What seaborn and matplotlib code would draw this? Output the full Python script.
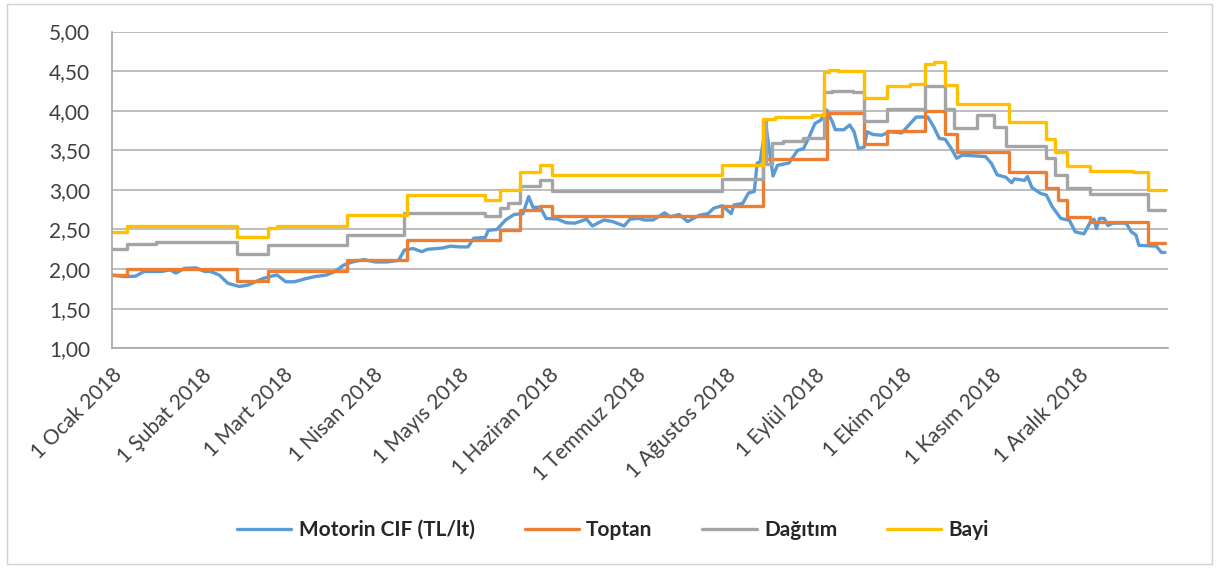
import pandas as pd
import matplotlib
matplotlib.use('Agg')
import matplotlib.pyplot as plt
import seaborn as sns
from matplotlib.patches import Rectangle

# days since 1 Jan 2018 -> price (TL/lt)
cif_days = [0, 4, 8, 11, 17, 20, 22, 25, 29, 32, 34, 37, 40, 44, 47, 52, 55, 57, 60, 63,
            67, 70, 74, 77, 80, 83, 87, 91, 95, 99, 101, 104, 107, 109, 114, 117, 120, 123, 125, 129,
            130, 133, 136, 139, 142, 144, 145.5, 148, 150, 154, 157, 160, 164, 166, 170, 173, 177, 179, 182, 184,
            187, 191, 193, 196, 199, 203, 206, 208, 211, 214, 215, 218, 220, 222, 223, 224, 226, 228.5, 230, 234,
            237, 239, 241, 243, 245, 247, 249, 250, 253, 255, 256.5, 258, 260, 261, 263, 266, 269, 273, 276, 278,
            282, 284, 286, 288, 290, 292, 294, 298, 302, 304, 306, 309, 311, 312, 315.5, 316.5, 318, 321, 323, 325,
            328, 331, 333, 336, 338, 339.5, 340.3, 341.4, 343, 344.3, 346, 350.6, 352.4, 354, 355, 361, 362.8, 364]
cif_vals = [1.925, 1.905, 1.91, 1.97, 1.97, 1.99, 1.95, 2.01, 2.015, 1.97, 1.97, 1.925, 1.82, 1.78, 1.80, 1.88, 1.91, 1.925, 1.84, 1.84,
            1.88, 1.905, 1.925, 1.97, 2.05, 2.09, 2.12, 2.09, 2.09, 2.11, 2.24, 2.26, 2.22, 2.25, 2.265, 2.29, 2.28, 2.28, 2.39, 2.40,
            2.49, 2.50, 2.62, 2.69, 2.70, 2.915, 2.78, 2.78, 2.64, 2.63, 2.585, 2.58, 2.63, 2.545, 2.62, 2.60, 2.545, 2.63, 2.64, 2.62,
            2.62, 2.71, 2.66, 2.69, 2.60, 2.68, 2.70, 2.77, 2.80, 2.70, 2.81, 2.83, 2.96, 2.98, 3.34, 3.35, 3.82, 3.175, 3.31, 3.34,
            3.50, 3.52, 3.67, 3.84, 3.88, 4.01, 3.86, 3.76, 3.76, 3.82, 3.735, 3.525, 3.54, 3.735, 3.70, 3.69, 3.735, 3.72, 3.84, 3.92,
            3.92, 3.80, 3.65, 3.64, 3.53, 3.40, 3.44, 3.43, 3.42, 3.335, 3.19, 3.16, 3.09, 3.14, 3.12, 3.17, 3.03, 2.955, 2.935, 2.79,
            2.64, 2.615, 2.47, 2.445, 2.58, 2.63, 2.51, 2.64, 2.64, 2.55, 2.58, 2.58, 2.47, 2.43, 2.30, 2.29, 2.21, 2.21]

# step series: day of change -> new level
toptan_days = [0, 5, 43, 54, 81, 102, 134, 141, 148, 152, 211, 225, 247, 260, 268, 281, 288, 292,
               310, 323, 327, 330, 338, 358, 364]
toptan_vals = [1.925, 2.00, 1.85, 1.975, 2.115, 2.37, 2.49, 2.75, 2.80, 2.67, 2.80, 3.39, 3.97, 3.58, 3.75, 4.00, 3.71, 3.48,
               3.23, 3.02, 2.87, 2.66, 2.60, 2.33, 2.33]

dagitim_days = [0, 5, 15, 43, 54, 81, 101, 129, 134, 137, 141, 148, 152, 211, 225, 226, 228, 232, 239, 246,
                249, 256, 260, 268, 281, 288, 291, 299, 305, 309, 323, 326, 330, 338, 358, 364]
dagitim_vals = [2.25, 2.32, 2.345, 2.19, 2.30, 2.43, 2.71, 2.67, 2.77, 2.83, 3.05, 3.13, 2.99, 3.14, 3.88, 3.33, 3.59, 3.62, 3.66, 4.23,
                4.25, 4.23, 3.87, 4.02, 4.31, 4.02, 3.78, 3.94, 3.79, 3.55, 3.40, 3.19, 3.02, 2.95, 2.74, 2.74]

bayi_days = [0, 5, 43, 54, 57, 81, 102, 129, 134, 141, 148, 152, 211, 225, 229, 242, 246, 248, 251, 260,
             268, 276, 281, 284, 288, 292, 304, 310, 323, 326, 330, 338, 353, 358, 364]
bayi_vals = [2.47, 2.55, 2.40, 2.52, 2.54, 2.68, 2.94, 2.87, 3.00, 3.23, 3.31, 3.19, 3.31, 3.90, 3.92, 3.95, 4.49, 4.52, 4.50, 4.16,
             4.31, 4.34, 4.59, 4.61, 4.33, 4.08, 4.09, 3.86, 3.64, 3.48, 3.30, 3.24, 3.22, 3.00, 3.00]

month_labels = ['1 Ocak 2018', '1 Şubat 2018', '1 Mart 2018', '1 Nisan 2018', '1 Mayıs 2018', '1 Haziran 2018',
                '1 Temmuz 2018', '1 Ağustos 2018', '1 Eylül 2018', '1 Ekim 2018', '1 Kasım 2018', '1 Aralık 2018']
y_ticks = [1.0, 1.5, 2.0, 2.5, 3.0, 3.5, 4.0, 4.5, 5.0]
y_labels = ['1,00', '1,50', '2,00', '2,50', '3,00', '3,50', '4,00', '4,50', '5,00']

start = pd.Timestamp('2018-01-01')


def to_dates(days):
    return start + pd.to_timedelta(days, unit='D')


sns.set_style('white')
plt.rcParams['font.family'] = ['Lato', 'DejaVu Sans']

fig = plt.figure(figsize=(12.19, 5.69), dpi=100)
ax = fig.add_axes([0.0921, 0.3879, 0.8659, 0.5567])

series = [
    ('Motorin CIF (TL/lt)', cif_days, cif_vals, '#5B9BD5', 'default'),
    ('Toptan', toptan_days, toptan_vals, '#ED7D31', 'steps-post'),
    ('Dağıtım', dagitim_days, dagitim_vals, '#A5A5A5', 'steps-post'),
    ('Bayi', bayi_days, bayi_vals, '#FFC000', 'steps-post'),
]
for name, d, v, c, ds in series:
    sns.lineplot(x=to_dates(d), y=v, ax=ax, color=c, linewidth=2.4, label=name,
                 estimator=None, drawstyle=ds)

ax.set_xlim(start, to_dates(365))
ax.set_ylim(1, 5)
ax.set_yticks(y_ticks)
ax.set_yticklabels(y_labels, fontsize=15, color='#404040')
ax.set_xticks(pd.date_range('2018-01-01', periods=12, freq='MS'))
ax.set_xticklabels(month_labels, fontsize=15, color='#404040', rotation=45, ha='right',
                   rotation_mode='anchor')
ax.set_xlabel('')
ax.set_ylabel('')
ax.grid(axis='y', color='#b3b3b3', linewidth=1.2)
ax.grid(axis='x', visible=False)
ax.set_axisbelow(True)
for s in ['top', 'right']:
    ax.spines[s].set_visible(False)
for s in ['left', 'bottom']:
    ax.spines[s].set_color('#a6a6a6')
    ax.spines[s].set_linewidth(1.2)
ax.tick_params(axis='both', direction='out', length=6, width=1.2, color='#a6a6a6', pad=6)
ax.tick_params(axis='y', pad=10)

handles, labels = ax.get_legend_handles_labels()
ax.get_legend().remove()
fig.legend(handles, labels, loc='center', bbox_to_anchor=(0.503, 1 - 530 / 569), ncol=4, frameon=False,
           prop={'weight': 'bold', 'size': 15}, handlelength=2.6, columnspacing=2.4, handletextpad=0.35)

fig.patches.append(Rectangle((0.006, 0.008), 0.988, 0.985, transform=fig.transFigure,
                             fill=False, edgecolor='#d0d0d0', linewidth=1))

fig.savefig('out.png', dpi=100)
